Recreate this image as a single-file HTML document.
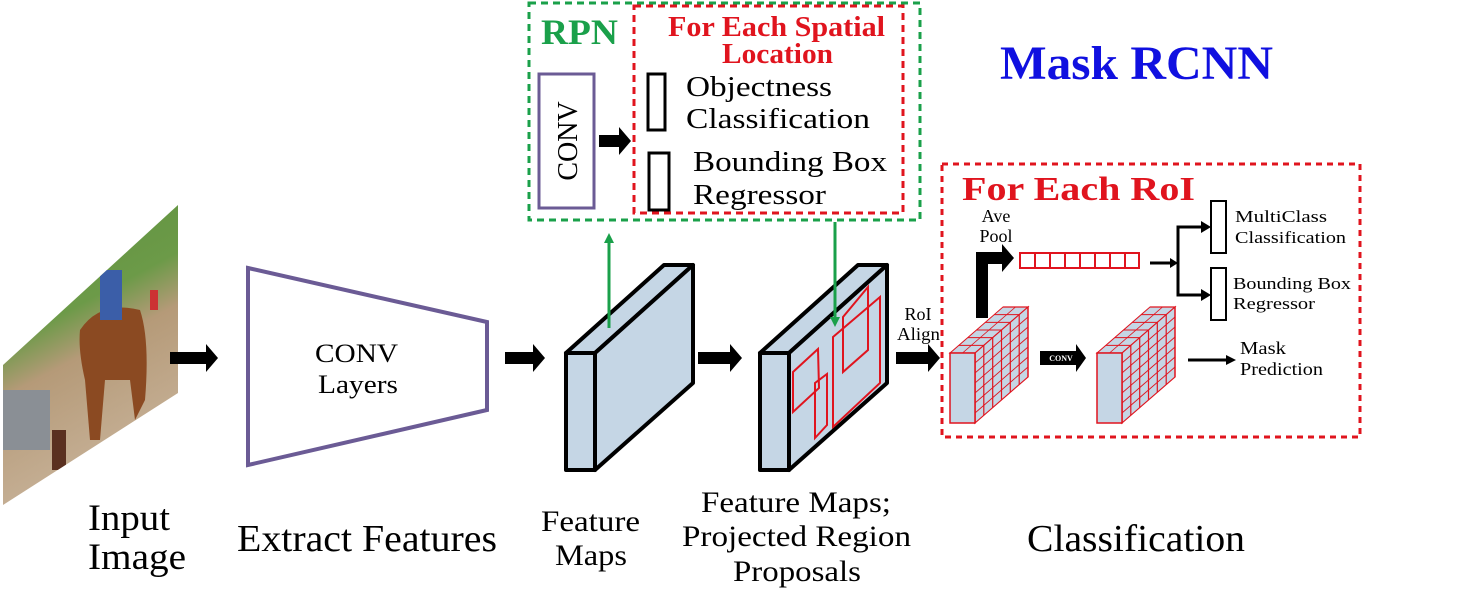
<!DOCTYPE html>
<html><head><meta charset="utf-8"><style>
html,body{margin:0;padding:0;background:#fff;}
svg{display:block;font-family:"Liberation Serif",serif;}
</style></head><body>
<svg width="1474" height="610" viewBox="0 0 1474 610" xmlns="http://www.w3.org/2000/svg">
<defs>
<marker id="ga" markerWidth="10" markerHeight="10" refX="5" refY="5" orient="auto" markerUnits="userSpaceOnUse"><path d="M0,0 L10,5 L0,10 z" fill="#1aa04a"/></marker>
<linearGradient id="ph" x1="0" y1="0" x2="0.3" y2="1">
<stop offset="0" stop-color="#5a8f3c"/><stop offset="0.45" stop-color="#6c9a48"/><stop offset="0.6" stop-color="#b59a78"/><stop offset="1" stop-color="#c8b39a"/></linearGradient>
<clipPath id="pc"><polygon points="3,365 178,205 178,393 3,505"/></clipPath>
</defs>

<g clip-path="url(#pc)">
<rect x="0" y="190" width="180" height="320" fill="url(#ph)"/>
<rect x="0" y="390" width="50" height="60" fill="#8a8f95"/>
<path d="M80,330 Q100,300 140,310 Q150,340 145,400 L135,420 L130,380 L105,380 L100,440 L90,440 L85,380 Q78,350 80,330z" fill="#8b4a22"/>
<rect x="100" y="270" width="22" height="50" fill="#3b5ea8"/>
<rect x="52" y="430" width="14" height="40" fill="#5a3020"/>
<rect x="150" y="290" width="8" height="20" fill="#c33"/>
</g>

<g fill="#000">
<path d="M170,352 h36 v-8 l12,14 l-12,14 v-8 h-36z"/>
<path d="M505,352 h28 v-8 l12,14 l-12,14 v-8 h-28z"/>
<path d="M698,352 h32 v-8 l12,14 l-12,14 v-8 h-32z"/>
<path d="M896,352 h32 v-8 l12,14 l-12,14 v-8 h-32z"/>
</g>

<polygon points="248,268 487,322 487,410 248,465" fill="#fff" stroke="#6b5b95" stroke-width="4"/>
<text x="315" y="362" font-size="26" textLength="83" lengthAdjust="spacingAndGlyphs">CONV</text>
<text x="318" y="393" font-size="26" textLength="80" lengthAdjust="spacingAndGlyphs">Layers</text>

<g stroke="#000" stroke-width="4" stroke-linejoin="round" fill="#c5d6e5">
<polygon points="566,353 595,353 693,265 664,265"/>
<polygon points="595,353 693,265 693,383 595,470"/>
<rect x="566" y="353" width="29" height="117"/>
</g>
<g stroke="#000" stroke-width="4" stroke-linejoin="round" fill="#c5d6e5">
<polygon points="760,353 789,353 887,265 858,265"/>
<polygon points="789,353 887,265 887,383 789,470"/>
<rect x="760" y="353" width="29" height="117"/>
</g>
<g stroke="#e0141e" stroke-width="2" fill="none">
<polygon points="793,372 818,349 819,388 793,412"/>
<polygon points="815,383 827,374 827,425 815,438"/>
<polygon points="833,337 880,297 880,383 833,427"/>
<polygon points="843,317 868,287 868,350 843,372"/>
</g>

<line x1="609" y1="328" x2="609" y2="238" stroke="#1aa04a" stroke-width="3" marker-end="url(#ga)"/>
<line x1="835" y1="222" x2="835" y2="322" stroke="#1aa04a" stroke-width="3" marker-end="url(#ga)"/>

<rect x="529" y="3" width="391" height="217" fill="none" stroke="#1aa04a" stroke-width="3" stroke-dasharray="7,5"/>
<text x="541" y="44" font-size="36" font-weight="bold" fill="#1aa04a" textLength="77" lengthAdjust="spacingAndGlyphs">RPN</text>
<rect x="634" y="6" width="269" height="207" fill="none" stroke="#e0141e" stroke-width="3" stroke-dasharray="7,5"/>
<text x="668" y="36" font-size="28" font-weight="bold" fill="#e0141e" textLength="217" lengthAdjust="spacingAndGlyphs">For Each Spatial</text>
<text x="722" y="63" font-size="28" font-weight="bold" fill="#e0141e" textLength="111" lengthAdjust="spacingAndGlyphs">Location</text>
<rect x="539" y="74" width="55" height="134" fill="#fff" stroke="#6b5b95" stroke-width="3"/>
<text transform="translate(577,141) rotate(-90)" font-size="28" text-anchor="middle">CONV</text>
<path d="M599,135 h20 v-8 l12,14 l-12,14 v-8 h-20z" fill="#000"/>
<rect x="648" y="74" width="17" height="56" fill="none" stroke="#000" stroke-width="3"/>
<rect x="649" y="153" width="20" height="57" fill="none" stroke="#000" stroke-width="3"/>
<text x="686" y="96" font-size="29" textLength="146" lengthAdjust="spacingAndGlyphs">Objectness</text>
<text x="686" y="128" font-size="29" textLength="184" lengthAdjust="spacingAndGlyphs">Classification</text>
<text x="693" y="171" font-size="29" textLength="194" lengthAdjust="spacingAndGlyphs">Bounding Box</text>
<text x="693" y="204" font-size="29" textLength="133" lengthAdjust="spacingAndGlyphs">Regressor</text>

<text x="1000" y="79" font-size="48" font-weight="bold" fill="#1010e0" textLength="273" lengthAdjust="spacingAndGlyphs">Mask RCNN</text>

<text x="918" y="320" font-size="18" text-anchor="middle">RoI</text>
<text x="897" y="340" font-size="18" textLength="43" lengthAdjust="spacingAndGlyphs">Align</text>

<rect x="942" y="164" width="418" height="273" fill="none" stroke="#e0141e" stroke-width="3" stroke-dasharray="6,5"/>
<text x="962" y="200" font-size="34" font-weight="bold" fill="#e0141e" textLength="233" lengthAdjust="spacingAndGlyphs">For Each RoI</text>
<text x="996" y="222" font-size="18" text-anchor="middle">Ave</text>
<text x="996" y="242" font-size="18" text-anchor="middle">Pool</text>
<path d="M976,318 V252 H1002 v-8 l12,14 l-12,14 v-8 H988 V318z" fill="#000"/>
<rect x="1020" y="253" width="119" height="15" fill="#fff" stroke="#e0141e" stroke-width="2"/>
<g stroke="#e0141e" stroke-width="2">
<line x1="1035" y1="253" x2="1035" y2="268"/><line x1="1050" y1="253" x2="1050" y2="268"/>
<line x1="1065" y1="253" x2="1065" y2="268"/><line x1="1080" y1="253" x2="1080" y2="268"/>
<line x1="1095" y1="253" x2="1095" y2="268"/><line x1="1110" y1="253" x2="1110" y2="268"/>
<line x1="1125" y1="253" x2="1125" y2="268"/>
</g>
<g stroke="#000" stroke-width="3" fill="none">
<line x1="1150" y1="263" x2="1172" y2="263"/>
<polyline points="1203,227 1178,227 1178,295 1203,295"/>
</g>
<g fill="#000">
<path d="M1170,258 l8,5 l-8,5z"/>
<path d="M1201,221 l10,6 l-10,6z"/>
<path d="M1201,289 l10,6 l-10,6z"/>
</g>
<rect x="1211" y="201" width="15" height="52" fill="#fff" stroke="#000" stroke-width="2"/>
<rect x="1211" y="268" width="15" height="52" fill="#fff" stroke="#000" stroke-width="2"/>
<text x="1235" y="222" font-size="17" textLength="92" lengthAdjust="spacingAndGlyphs">MultiClass</text>
<text x="1235" y="243" font-size="17" textLength="111" lengthAdjust="spacingAndGlyphs">Classification</text>
<text x="1233" y="289" font-size="17" textLength="118" lengthAdjust="spacingAndGlyphs">Bounding Box</text>
<text x="1233" y="309" font-size="17" textLength="82" lengthAdjust="spacingAndGlyphs">Regressor</text>

<g>
<g transform="matrix(1,0,1,-0.868,950,353)">
<rect x="0" y="0" width="25" height="53" fill="#c5d6e5" stroke="#e0141e" stroke-width="1.5"/>
<g stroke="#e0141e" stroke-width="1.2"><line x1="12.5" y1="0" x2="12.5" y2="53"/>
<line x1="0" y1="8.8" x2="25" y2="8.8"/><line x1="0" y1="17.7" x2="25" y2="17.7"/><line x1="0" y1="26.5" x2="25" y2="26.5"/><line x1="0" y1="35.3" x2="25" y2="35.3"/><line x1="0" y1="44.2" x2="25" y2="44.2"/></g>
</g>
<g transform="matrix(1,-0.868,0,1,975,353)">
<rect x="0" y="0" width="53" height="70" fill="#c5d6e5" stroke="#e0141e" stroke-width="1.5"/>
<g stroke="#e0141e" stroke-width="1.2">
<line x1="8.8" y1="0" x2="8.8" y2="70"/><line x1="17.7" y1="0" x2="17.7" y2="70"/><line x1="26.5" y1="0" x2="26.5" y2="70"/><line x1="35.3" y1="0" x2="35.3" y2="70"/><line x1="44.2" y1="0" x2="44.2" y2="70"/>
<line x1="0" y1="10" x2="53" y2="10"/><line x1="0" y1="20" x2="53" y2="20"/><line x1="0" y1="30" x2="53" y2="30"/><line x1="0" y1="40" x2="53" y2="40"/><line x1="0" y1="50" x2="53" y2="50"/><line x1="0" y1="60" x2="53" y2="60"/></g>
</g>
<rect x="950" y="353" width="25" height="70" fill="#c5d6e5" stroke="#e0141e" stroke-width="1.5"/>
</g>
<g>
<g transform="matrix(1,0,1,-0.868,1097,353)">
<rect x="0" y="0" width="25" height="53" fill="#c5d6e5" stroke="#e0141e" stroke-width="1.5"/>
<g stroke="#e0141e" stroke-width="1.2"><line x1="12.5" y1="0" x2="12.5" y2="53"/>
<line x1="0" y1="8.8" x2="25" y2="8.8"/><line x1="0" y1="17.7" x2="25" y2="17.7"/><line x1="0" y1="26.5" x2="25" y2="26.5"/><line x1="0" y1="35.3" x2="25" y2="35.3"/><line x1="0" y1="44.2" x2="25" y2="44.2"/></g>
</g>
<g transform="matrix(1,-0.868,0,1,1122,353)">
<rect x="0" y="0" width="53" height="70" fill="#c5d6e5" stroke="#e0141e" stroke-width="1.5"/>
<g stroke="#e0141e" stroke-width="1.2">
<line x1="8.8" y1="0" x2="8.8" y2="70"/><line x1="17.7" y1="0" x2="17.7" y2="70"/><line x1="26.5" y1="0" x2="26.5" y2="70"/><line x1="35.3" y1="0" x2="35.3" y2="70"/><line x1="44.2" y1="0" x2="44.2" y2="70"/>
<line x1="0" y1="10" x2="53" y2="10"/><line x1="0" y1="20" x2="53" y2="20"/><line x1="0" y1="30" x2="53" y2="30"/><line x1="0" y1="40" x2="53" y2="40"/><line x1="0" y1="50" x2="53" y2="50"/><line x1="0" y1="60" x2="53" y2="60"/></g>
</g>
<rect x="1097" y="353" width="25" height="70" fill="#c5d6e5" stroke="#e0141e" stroke-width="1.5"/>
</g>

<path d="M1040,351 h36 v-7 l10,14 l-10,14 v-7 h-36z" fill="#000"/>
<text x="1061" y="361" font-size="8" font-weight="bold" fill="#fff" text-anchor="middle">CONV</text>
<line x1="1188" y1="360" x2="1228" y2="360" stroke="#000" stroke-width="3"/>
<path d="M1226,355 l10,5 l-10,5z" fill="#000"/>
<text x="1240" y="354" font-size="18" textLength="46" lengthAdjust="spacingAndGlyphs">Mask</text>
<text x="1240" y="375" font-size="18" textLength="83" lengthAdjust="spacingAndGlyphs">Prediction</text>

<text x="88" y="530" font-size="37" textLength="82" lengthAdjust="spacingAndGlyphs">Input</text>
<text x="88" y="569" font-size="37" textLength="98" lengthAdjust="spacingAndGlyphs">Image</text>
<text x="237" y="551" font-size="38" textLength="260" lengthAdjust="spacingAndGlyphs">Extract Features</text>
<text x="541" y="531" font-size="30" textLength="99" lengthAdjust="spacingAndGlyphs">Feature</text>
<text x="555" y="565" font-size="30" textLength="72" lengthAdjust="spacingAndGlyphs">Maps</text>
<text x="701" y="512" font-size="30" textLength="190" lengthAdjust="spacingAndGlyphs">Feature Maps;</text>
<text x="682" y="546" font-size="30" textLength="229" lengthAdjust="spacingAndGlyphs">Projected Region</text>
<text x="733" y="581" font-size="30" textLength="128" lengthAdjust="spacingAndGlyphs">Proposals</text>
<text x="1027" y="551" font-size="38" textLength="218" lengthAdjust="spacingAndGlyphs">Classification</text>
</svg>
</body></html>
